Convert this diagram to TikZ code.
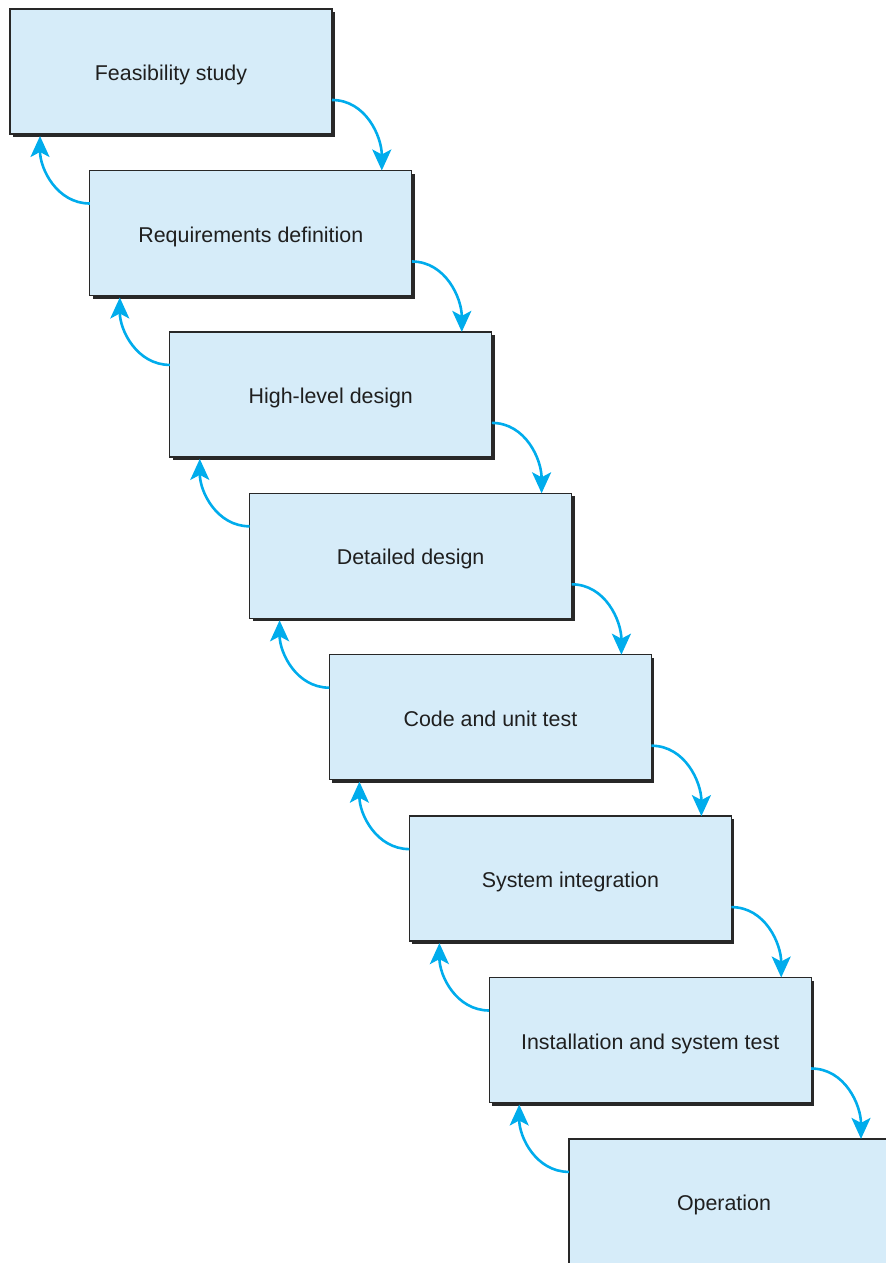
\documentclass[tikz,border=0pt]{standalone}
\usepackage{fontspec}
\setmainfont{Liberation Sans}
\usetikzlibrary{arrows.meta,shadows}
\definecolor{boxfill}{RGB}{214,236,249}
\definecolor{flowblue}{RGB}{0,172,236}
\definecolor{boxline}{RGB}{40,40,40}

\begin{document}
\begin{tikzpicture}[x=1pt,y=1pt]

      \useasboundingbox (0,0) rectangle (443,-631.5);

      \begin{scope}[every node/.style={rectangle,draw=boxline,fill=boxfill,line width=.65pt,
          minimum width=161pt,minimum height=62.5pt,inner sep=0pt,outer sep=0pt,
          text height=9pt,text depth=0pt,
          text=black!88,font=\fontsize{10.7}{13}\selectfont,
          drop shadow={shadow xshift=1.5pt,shadow yshift=-1.5pt,fill=boxline,opacity=1}}]
        \node (1) at (85.5,-35.75)  {Feasibility study};
        \node (2) at (125.4,-116.5) {Requirements definition};
        \node (3) at (165.4,-197.2) {High-level design};
        \node (4) at (205.3,-277.9) {Detailed design};
        \node (5) at (245.2,-358.6) {Code and unit test};
        \node (6) at (285.2,-439.3) {System integration};
        \node (7) at (325.1,-520.0) {Installation and system test};
        \node (8) at (365.0,-600.7) {Operation\kern6pt};
      \end{scope}

      \begin{scope}[every edge/.style={draw=flowblue,line width=1.3pt,
          -{Stealth[length=10.5pt,width=9.5pt,inset=2.5pt]}}]
        % down the steps
        \path ([yshift=-14.25pt]1.east) edge[out=0,in=90] ([xshift=65.5pt]2.north);
        \path ([yshift=-14.25pt]2.east) edge[out=0,in=90] ([xshift=65.5pt]3.north);
        \path ([yshift=-14.25pt]3.east) edge[out=0,in=90] ([xshift=65.5pt]4.north);
        \path ([yshift=-14.25pt]4.east) edge[out=0,in=90] ([xshift=65.5pt]5.north);
        \path ([yshift=-14.25pt]5.east) edge[out=0,in=90] ([xshift=65.5pt]6.north);
        \path ([yshift=-14.25pt]6.east) edge[out=0,in=90] ([xshift=65.5pt]7.north);
        \path ([yshift=-14.25pt]7.east) edge[out=0,in=90] ([xshift=65.5pt]8.north);
        % back up the steps
        \path ([yshift=14.75pt]2.west) edge[out=180,in=-90] ([xshift=-65.5pt,yshift=-1pt]1.south);
        \path ([yshift=14.75pt]3.west) edge[out=180,in=-90] ([xshift=-65.5pt,yshift=-1pt]2.south);
        \path ([yshift=14.75pt]4.west) edge[out=180,in=-90] ([xshift=-65.5pt,yshift=-1pt]3.south);
        \path ([yshift=14.75pt]5.west) edge[out=180,in=-90] ([xshift=-65.5pt,yshift=-1pt]4.south);
        \path ([yshift=14.75pt]6.west) edge[out=180,in=-90] ([xshift=-65.5pt,yshift=-1pt]5.south);
        \path ([yshift=14.75pt]7.west) edge[out=180,in=-90] ([xshift=-65.5pt,yshift=-1pt]6.south);
        \path ([yshift=14.75pt]8.west) edge[out=180,in=-90] ([xshift=-65.5pt,yshift=-1pt]7.south);
      \end{scope}

    \end{tikzpicture}
\end{document}
